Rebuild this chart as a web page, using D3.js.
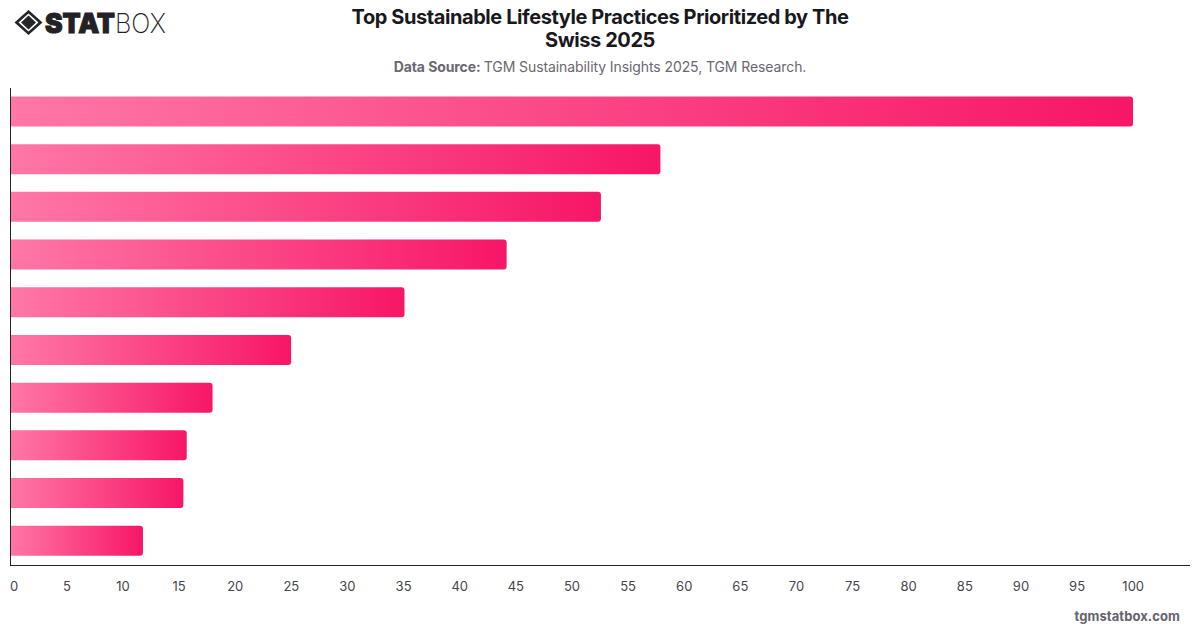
<!DOCTYPE html>
<html>
<head>
<meta charset="utf-8">
<script src="https://cdn.jsdelivr.net/npm/d3@7/dist/d3.min.js"></script>
<style>
  html, body { margin: 0; padding: 0; background: #fff; }
  svg { display: block; font-family: Inter, "Liberation Sans", sans-serif; }
</style>
</head>
<body>
<svg id="chart" width="1200" height="628"></svg>
<script>
const ranks = ["1", "2", "3", "4", "5", "6", "7", "8", "9", "10"];
const shares = [100, 57.9, 52.6, 44.2, 35.1, 25, 18, 15.7, 15.4, 11.8];
const tickValues = d3.range(0, 101, 5);
const titleLines = ["Top Sustainable Lifestyle Practices Prioritized by The", "Swiss 2025"];

const svg = d3.select("#chart");
const x = d3.scaleLinear().domain([0, 100]).range([10.5, 1133]);
const y = d3.scaleBand().domain(ranks).range([87.6, 564.6]).paddingInner(0.372).paddingOuter(0.186);

// Each bar carries its own left-to-right fade
const defs = svg.append("defs");
const grad = defs.append("linearGradient").attr("id", "barFade")
  .attr("x1", "0%").attr("x2", "100%").attr("y1", "0%").attr("y2", "0%");
grad.append("stop").attr("offset", "0%").attr("stop-color", "#ff77a6");
grad.append("stop").attr("offset", "100%").attr("stop-color", "#f71667");

// Flat on the axis side, rounded on the value side
const barPath = (d, i) => {
  const x0 = x(0), x1 = x(d), t = y(ranks[i]), b = t + y.bandwidth(), r = 3;
  return `M${x0},${t}H${x1 - r}Q${x1},${t} ${x1},${t + r}V${b - r}Q${x1},${b} ${x1 - r},${b}H${x0}Z`;
};
svg.append("g").selectAll("path").data(shares).join("path")
  .attr("d", barPath).attr("fill", "url(#barFade)");

// Axes
const xAxis = d3.axisBottom(x).tickValues(tickValues).tickSize(0).tickPadding(16);
const gx = svg.append("g").attr("transform", "translate(0,565.5)").call(xAxis);
gx.select(".domain").remove();
gx.selectAll("text")
  .attr("font-family", "Inter, sans-serif").attr("font-size", 13).attr("fill", "#45454b")
  .attr("dx", d => d === 0 ? 3 : -0.3);
svg.append("line").attr("x1", 10.5).attr("x2", 10.5).attr("y1", 88).attr("y2", 566)
  .attr("stroke", "#222").attr("stroke-width", 1);
svg.append("line").attr("x1", 10).attr("x2", 1190).attr("y1", 565.5).attr("y2", 565.5)
  .attr("stroke", "#222").attr("stroke-width", 1);

// Heading block
svg.append("g").selectAll("text").data(titleLines).join("text")
  .attr("x", 600).attr("y", (d, i) => 24 + i * 23)
  .attr("text-anchor", "middle").attr("font-size", 20).attr("font-weight", 700)
  .attr("letter-spacing", -0.42).attr("fill", "#18181d").text(d => d);

const source = svg.append("text").attr("x", 600).attr("y", 72)
  .attr("text-anchor", "middle").attr("font-size", 14).attr("letter-spacing", -0.09).attr("fill", "#6a6771");
source.append("tspan").attr("font-weight", 700).text("Data Source: ");
source.append("tspan").text("TGM Sustainability Insights 2025, TGM Research.");

svg.append("text").attr("x", 1180).attr("y", 621).attr("text-anchor", "end")
  .attr("font-size", 13).attr("font-weight", 700).attr("letter-spacing", 0.08)
  .attr("fill", "#66636d").text("tgmstatbox.com");

// Brand mark: nested diamonds plus wordmark
const logo = svg.append("g");
logo.append("path")
  .attr("d", "M28.5,10L42.5,22.5L28.5,35L14.5,22.5Z M28.5,13.5L18.5,22.5L28.5,31.5L38.5,22.5Z")
  .attr("fill", "#25252a").attr("fill-rule", "evenodd");
logo.append("path").attr("d", "M28.5,15.5L36,22.5L28.5,29.5L21,22.5Z").attr("fill", "#25252a");
logo.append("text").attr("x", 45).attr("y", 32.5).attr("font-size", 27).attr("font-weight", 900)
  .attr("textLength", 70).attr("lengthAdjust", "spacingAndGlyphs")
  .attr("stroke", "#222226").attr("stroke-width", 1).attr("fill", "#222226").text("STAT");
logo.append("text").attr("x", 115).attr("y", 32.5).attr("font-size", 27).attr("font-weight", 200)
  .attr("textLength", 51).attr("lengthAdjust", "spacingAndGlyphs").attr("fill", "#222226").text("BOX");
</script>
</body>
</html>
